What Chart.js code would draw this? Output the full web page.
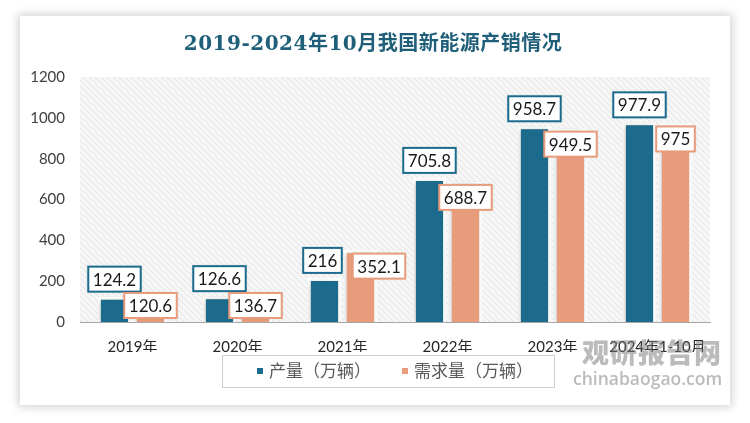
<!DOCTYPE html>
<html>
<head>
<meta charset="utf-8">
<script src="https://cdn.jsdelivr.net/npm/chart.js@4.4.1/dist/chart.umd.min.js"></script>
<style>
  html, body { margin: 0; padding: 0; background: #ffffff; }
  body { width: 750px; height: 423px; position: relative; overflow: hidden; }
  #card { position: absolute; left: 20px; top: 16px; width: 710px; height: 389px; background: #fff;
          box-shadow: 0 0 9px 2px rgba(0,0,0,0.18); }
  #wrap { position: absolute; left: 0; top: 0; width: 750px; height: 423px; }
  #title { position: absolute; left: 0; width: 746px; top: 29px; text-align: center;
           font-family: "DejaVu Serif", "Noto Sans CJK SC", serif; font-weight: bold; font-size: 20px;
           color: #1f5f7a; letter-spacing: 0.5px; line-height: 28px; }
  #wm1 { position: absolute; left: 582px; top: 335px; font-family: "Noto Sans CJK SC", sans-serif; font-weight: 900;
         font-size: 27px; color: rgba(120,120,120,0.5); letter-spacing: 1px; line-height: 34px; }
  #wm2 { position: absolute; left: 573px; top: 366px; font-family: "Open Sans", "DejaVu Sans", sans-serif; font-weight: 600;
         font-size: 17.5px; color: rgba(120,120,120,0.5); line-height: 24px; }
</style>
</head>
<body>
<div id="card"></div>
<div id="wrap"><canvas id="c" width="750" height="423"></canvas></div>
<div id="title">2019-2024年10月我国新能源产销情况</div>
<div id="wm1">观研报告网</div>
<div id="wm2">chinabaogao.com</div>
<script>
const categories = ['2019年', '2020年', '2021年', '2022年', '2023年', '2024年1-10月'];
const productionValues = [124.2, 126.6, 216, 705.8, 958.7, 977.9];
const demandValues = [120.6, 136.7, 352.1, 688.7, 949.5, 975];
const seriesNames = ['产量（万辆）', '需求量（万辆）'];
const yMin = 0, yMax = 1200, yStep = 200;

const BLUE = '#1c6b8d';
const ORANGE = '#e89c7b';

function makePattern() {
  const p = document.createElement('canvas');
  p.width = 6; p.height = 6;
  const g = p.getContext('2d');
  g.fillStyle = '#f6f6f6';
  g.fillRect(0, 0, 6, 6);
  g.strokeStyle = '#e4e4e4';
  g.lineWidth = 1;
  g.beginPath();
  g.moveTo(0, 0); g.lineTo(6, 6);
  g.moveTo(-3, 3); g.lineTo(3, 9);
  g.moveTo(3, -3); g.lineTo(9, 3);
  g.stroke();
  return p;
}

const bgPlugin = {
  id: 'bgPlugin',
  beforeDraw(chart) {
    const { ctx, chartArea: a } = chart;
    ctx.save();
    ctx.fillStyle = ctx.createPattern(makePattern(), 'repeat');
    ctx.fillRect(a.left, a.top, a.right - a.left, a.bottom - a.top);
    ctx.restore();
  },
  beforeDatasetsDraw(chart) {
    const ctx = chart.ctx;
    ctx.save();
    ctx.shadowColor = 'rgba(0,0,0,0.28)';
    ctx.shadowBlur = 5;
    ctx.shadowOffsetX = -1;
    ctx.shadowOffsetY = 1;
  },
  afterDatasetsDraw(chart) {
    const ctx = chart.ctx;
    ctx.restore();
    const axisY = chart.scales.y.getPixelForValue(0);
    ctx.save();
    ctx.font = '17px Lato, "Liberation Sans", sans-serif';
    ctx.textAlign = 'center';
    ctx.textBaseline = 'middle';
    const h = 25;
    const boxes = [[], []];
    chart.data.datasets.forEach((ds, di) => {
      const meta = chart.getDatasetMeta(di);
      meta.data.forEach((el, i) => {
        const txt = String(ds.data[i]);
        const w = ctx.measureText(txt).width + 9;
        let cx = el.x, cy;
        if (di === 0) {
          cy = el.y - 5 - h / 2;
        } else {
          cy = el.y + 16;
          if (cy + h / 2 > axisY - 4) cy = axisY - 4 - h / 2;
        }
        boxes[di].push({ txt, w, cx, cy });
      });
    });
    // keep a demand label clear of the production label beside it
    boxes[1].forEach((b, i) => {
      const a = boxes[0][i];
      const overlapY = Math.abs(a.cy - b.cy) < h;
      const gap = (b.cx - b.w / 2) - (a.cx + a.w / 2);
      if (overlapY && gap < 11) {
        const shift = 11 - gap;
        a.cx -= Math.min(2, shift);
        b.cx += shift - Math.min(2, shift);
      }
    });
    boxes.forEach((list, di) => {
      list.forEach(({ txt, w, cx, cy }) => {
        ctx.save();
        ctx.shadowColor = 'rgba(0,0,0,0.15)';
        ctx.shadowBlur = 3;
        ctx.fillStyle = '#ffffff';
        ctx.fillRect(cx - w / 2, cy - h / 2, w, h);
        ctx.restore();
        ctx.lineWidth = 2;
        ctx.strokeStyle = di === 0 ? BLUE : ORANGE;
        ctx.strokeRect(cx - w / 2, cy - h / 2, w, h);
        ctx.fillStyle = '#1a1a1a';
        ctx.fillText(txt, cx, cy + 1);
      });
    });
    ctx.restore();
  },
  afterDraw(chart) {
    // legend: coloured squares and series names inside a thin grey frame
    const ctx = chart.ctx;
    const a = chart.chartArea;
    const cy = a.bottom + 49;
    ctx.save();
    ctx.font = '17px "Noto Sans CJK SC", sans-serif';
    const sq = 6, textGap = 6, itemGap = 31;
    const items = chart.data.datasets.map(ds => ({
      text: ds.label, color: ds.backgroundColor, tw: ctx.measureText(ds.label).width
    }));
    const total = items.reduce((s, it) => s + sq + textGap + it.tw, 0) + itemGap * (items.length - 1);
    let x = (a.left + a.right) / 2 - total / 2;
    const startX = x;
    ctx.textBaseline = 'middle';
    ctx.textAlign = 'left';
    items.forEach(it => {
      ctx.fillStyle = it.color;
      ctx.fillRect(x, cy - sq / 2, sq, sq);
      ctx.fillStyle = '#595959';
      ctx.fillText(it.text, x + sq + textGap, cy);
      x += sq + textGap + it.tw + itemGap;
    });
    const endX = x - itemGap;
    ctx.strokeStyle = '#d0d0d0';
    ctx.lineWidth = 1;
    ctx.strokeRect(Math.round(startX - 35) + 0.5, Math.round(cy - 16) + 0.5,
                   Math.round(endX + 21 - (startX - 35)), 32);
    ctx.restore();
  }
};

new Chart(document.getElementById('c'), {
  type: 'bar',
  data: {
    labels: categories,
    datasets: [
      { label: seriesNames[0], data: productionValues, backgroundColor: BLUE, borderColor: '#ffffff', borderWidth: 3 },
      { label: seriesNames[1], data: demandValues, backgroundColor: ORANGE, borderColor: '#ffffff', borderWidth: 3 }
    ]
  },
  options: {
    responsive: false,
    animation: false,
    layout: { padding: { top: 77, left: 0, right: 40, bottom: 71 } },
    datasets: { bar: { categoryPercentage: 0.686, barPercentage: 0.92 } },
    scales: {
      x: {
        grid: { display: false, drawTicks: false },
        border: { display: true, color: '#a6a6a6', width: 1 },
        ticks: { padding: 16, color: '#262626', font: { size: 15, family: 'Lato, "Noto Sans CJK SC", sans-serif' }, maxRotation: 0, autoSkip: false },
        afterFit(s) { s.height = 30; }
      },
      y: {
        min: yMin, max: yMax,
        grid: { display: false, drawTicks: false },
        border: { display: false },
        ticks: { stepSize: yStep, padding: 15, color: '#404040', font: { size: 15, family: 'Lato, "Liberation Sans", sans-serif' },
                 callback: (v) => String(v) },
        afterFit(s) { s.width = 80; }
      }
    },
    plugins: {
      title: { display: false },
      tooltip: { enabled: false },
      legend: { display: false }
    }
  },
  plugins: [bgPlugin]
});
</script>
</body>
</html>
